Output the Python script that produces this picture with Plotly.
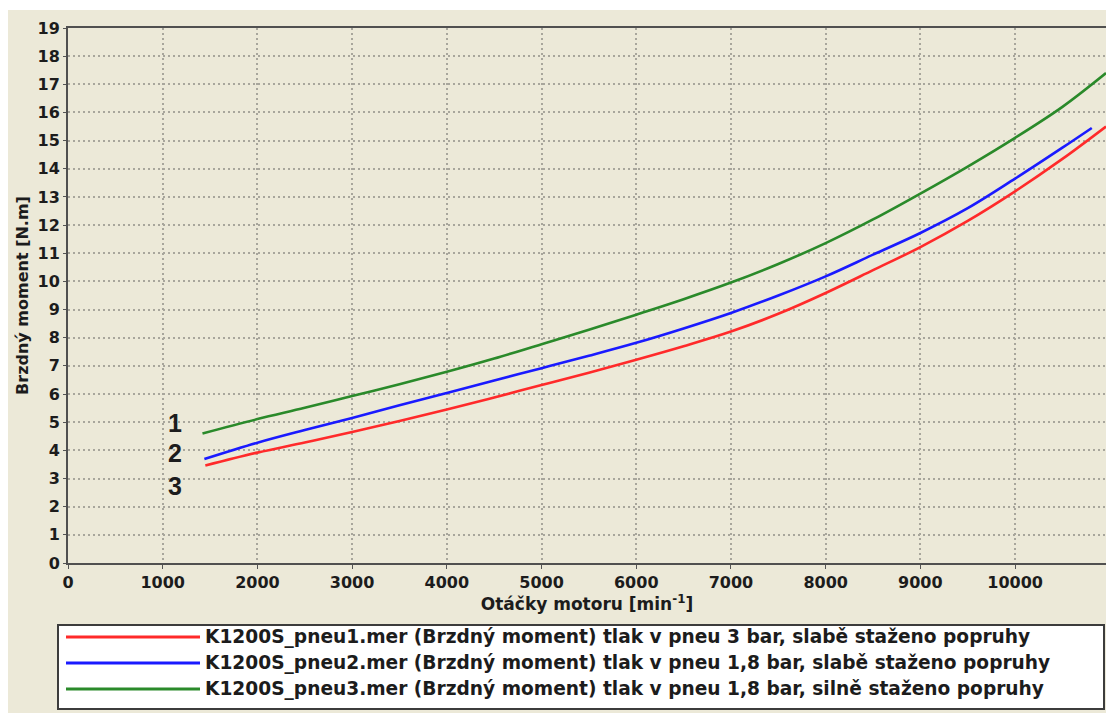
import plotly.graph_objects as go

# Engine speed [min^-1] and braking torque [N.m] for the three measurements
rpm_pneu1 = [1450, 2000, 2500, 3000, 3500, 4000, 4500, 5000, 5500, 6000, 6500,
             7000, 7500, 8000, 8500, 9000, 9500, 10000, 10500, 10960]
moment_pneu1 = [3.46, 3.92, 4.28, 4.65, 5.04, 5.45, 5.88, 6.32, 6.76, 7.22, 7.70,
                8.22, 8.85, 9.59, 10.40, 11.22, 12.15, 13.20, 14.35, 15.50]

rpm_pneu2 = [1440, 2000, 2500, 3000, 3500, 4000, 4500, 5000, 5500, 6000, 6500,
             7000, 7500, 8000, 8500, 9000, 9500, 10000, 10500, 10810]
moment_pneu2 = [3.69, 4.27, 4.72, 5.15, 5.60, 6.04, 6.48, 6.92, 7.36, 7.82, 8.33,
                8.88, 9.50, 10.18, 10.95, 11.72, 12.60, 13.65, 14.75, 15.45]

rpm_pneu3 = [1420, 2000, 2500, 3000, 3500, 4000, 4500, 5000, 5500, 6000, 6500,
             7000, 7500, 8000, 8500, 9000, 9500, 10000, 10500, 10960]
moment_pneu3 = [4.60, 5.11, 5.51, 5.93, 6.35, 6.79, 7.26, 7.77, 8.28, 8.82, 9.37,
                9.96, 10.62, 11.36, 12.20, 13.12, 14.08, 15.10, 16.20, 17.40]

series_names = [
    "K1200S_pneu1.mer (Brzdný moment) tlak v pneu 3 bar, slabě staženo popruhy",
    "K1200S_pneu2.mer (Brzdný moment) tlak v pneu 1,8 bar, slabě staženo popruhy",
    "K1200S_pneu3.mer (Brzdný moment) tlak v pneu 1,8 bar, silně staženo popruhy",
]
series_colors = ["#ff2a2a", "#1a1aff", "#2a8a2a"]

curve_labels = ["1", "2", "3"]
curve_label_x = [1130, 1130, 1130]
curve_label_y = [4.97, 3.91, 2.73]

x_ticks = list(range(0, 10001, 1000))
y_ticks = list(range(0, 20))

W, H = 1106, 713
ML, MR, MT, MB = 68, 0, 28, 150
PW, PH = W - ML - MR, H - MT - MB

BG = "#ece9d8"
FONT = "DejaVu Sans"
TXT = "#1c1c1c"


def px(xp):
    return (xp - ML) / PW


def py(yp):
    return (H - MB - yp) / PH


fig = go.Figure()

for xs, ys, name, col in zip([rpm_pneu1, rpm_pneu2, rpm_pneu3],
                             [moment_pneu1, moment_pneu2, moment_pneu3],
                             series_names, series_colors):
    fig.add_trace(go.Scatter(x=xs, y=ys, mode="lines", name=name,
                             line=dict(color=col, width=2.6, shape="spline", smoothing=1.0),
                             showlegend=False, hoverinfo="skip"))

shapes = []
# beige window panel
shapes.append(dict(type="rect", xref="paper", yref="paper",
                   x0=px(8), x1=px(W), y0=py(10), y1=py(H),
                   fillcolor=BG, line=dict(width=0), layer="below"))
# legend box
shapes.append(dict(type="rect", xref="paper", yref="paper",
                   x0=px(58), x1=px(1104), y0=py(625), y1=py(709),
                   fillcolor="white", line=dict(color="#3c3c3c", width=2)))

annotations = []
row_y = [637, 663, 689]
for name, col, ry in zip(series_names, series_colors, row_y):
    shapes.append(dict(type="line", xref="paper", yref="paper",
                       x0=px(66), x1=px(200), y0=py(ry), y1=py(ry),
                       line=dict(color=col, width=3)))
    annotations.append(dict(xref="paper", yref="paper", x=px(203), y=py(ry),
                            text=name, showarrow=False, xanchor="left", yanchor="middle",
                            font=dict(family=FONT, size=18.6, color=TXT, weight="bold")))

for lab, lx, ly in zip(curve_labels, curve_label_x, curve_label_y):
    annotations.append(dict(x=lx, y=ly, xref="x", yref="y", text=lab, showarrow=False,
                            font=dict(family="Liberation Sans", size=25, color=TXT, weight="bold")))

grid = dict(showgrid=True, gridcolor="#a8a69c", gridwidth=1.6, griddash="2px,3px")
tickfont = dict(family=FONT, size=16, color=TXT, weight="bold")

fig.update_layout(
    width=W, height=H,
    margin=dict(l=ML, r=MR, t=MT, b=MB, pad=0),
    paper_bgcolor="white", plot_bgcolor=BG,
    shapes=shapes, annotations=annotations,
    xaxis=dict(range=[0, 10960], tickvals=x_ticks, ticktext=[str(v) for v in x_ticks],
               tickfont=tickfont, ticks="outside", ticklen=4, tickcolor="#555",
               showline=True, linecolor="#505050", linewidth=2, mirror=True,
               zeroline=False, **grid,
               title=dict(text="Otáčky motoru [min<sup>-1</sup>]",
                          font=dict(family=FONT, size=17, color=TXT, weight="bold"),
                          standoff=3)),
    yaxis=dict(range=[0, 19], tickvals=y_ticks, ticktext=[str(v) for v in y_ticks],
               tickfont=tickfont, ticks="outside", ticklen=3, tickcolor="#555",
               showline=True, linecolor="#505050", linewidth=2,
               zeroline=False, **grid,
               title=dict(text="Brzdný moment [N.m]",
                          font=dict(family=FONT, size=16, color=TXT, weight="bold"),
                          standoff=5)),
)

fig.write_html("out.html")
